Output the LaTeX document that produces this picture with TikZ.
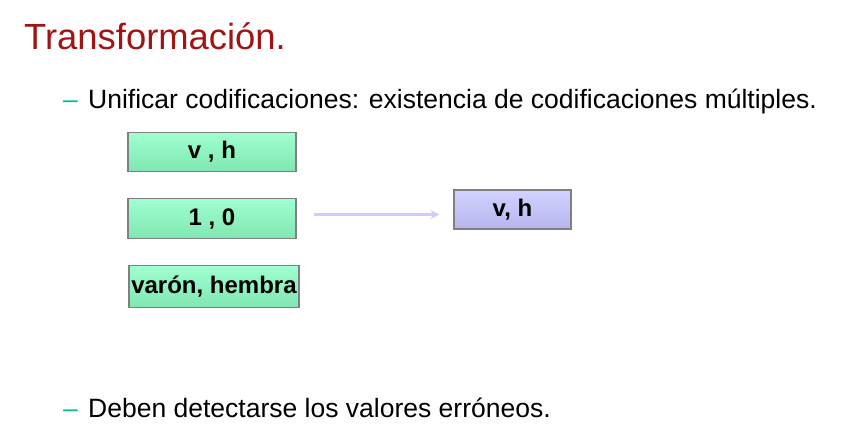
\documentclass[tikz,border=0pt]{standalone}
\usepackage{fontspec}
\setmainfont{Liberation Sans}
\usetikzlibrary{arrows.meta,positioning,calc}
\definecolor{titlered}{RGB}{160,20,20}
\definecolor{dashteal}{RGB}{0,190,150}
\definecolor{mintgreen}{RGB}{160,255,208}
\definecolor{mintdark}{RGB}{128,230,176}
\definecolor{lavender}{RGB}{210,210,255}
\definecolor{lavenderdark}{RGB}{182,182,238}
\definecolor{arrowlav}{RGB}{204,204,255}

\begin{document}
\begin{tikzpicture}[x=1pt, y=-1pt,
    box/.style={draw=gray, line width=1.1pt, top color=#1, minimum height=39pt, minimum width=168pt, align=center, font=\fontsize{24}{28}\selectfont\bfseries, inner sep=2pt},
    bullet/.style={anchor=base west, inner sep=0pt, font=\fontsize{26.5}{30}\selectfont},
    arr/.style={-{Stealth[length=9pt, width=9pt]}, line width=2.8pt, draw=arrowlav}
]
\useasboundingbox (0,0) rectangle (842,429);
\node[anchor=base west, inner sep=0pt, text=titlered, font=\fontsize{36.4}{40}\selectfont] (title) at (24,49) {Transformación.};

\node[bullet, text=dashteal] (dashone) at (63,108) {–};
\node[bullet] (lineone) at (88,108) {Unificar codificaciones: existencia de codificaciones múltiples.};

% three codings of the same value
\node[box=mintgreen, bottom color=mintdark] (vh) at (212,152) {v , h};
\node[box=mintgreen, bottom color=mintdark, minimum height=40pt, below=26pt of vh] (unocero) {1 , 0};
\node[box=mintgreen, bottom color=mintdark, minimum height=42pt, minimum width=170pt, below=26pt of unocero, xshift=2pt] (varon) {varón, hembra};

\node[box=lavender, bottom color=lavenderdark, minimum width=117pt] (unified) at (512.5,209.5) {v, h};

\draw[arr] ([xshift=17pt,yshift=4pt]unocero.east) -- ([xshift=-14pt,yshift=4pt]unocero.east -| unified.west);

\node[bullet, text=dashteal] (dashtwo) at (63,417) {–};
\node[bullet] (linetwo) at (88,417) {Deben detectarse los valores erróneos.};
\end{tikzpicture}
\end{document}
